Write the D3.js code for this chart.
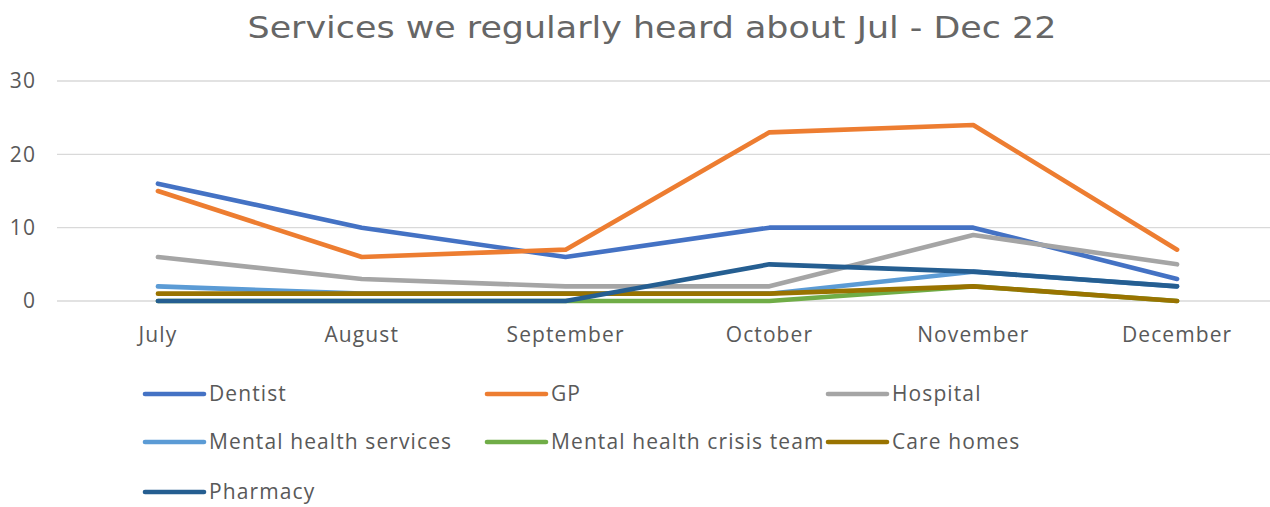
<!DOCTYPE html>
<html>
<head>
<meta charset="utf-8">
<script src="https://cdn.jsdelivr.net/npm/d3@7"></script>
<style>
  html, body { margin: 0; padding: 0; background: #fff; }
  svg { display: block; }
  text { font-family: "Open Sans", "Noto Sans", sans-serif; fill: #595959; }
</style>
</head>
<body>
<svg id="chart" width="1270" height="507"></svg>
<script>
// Monthly counts of services people told us about, Jul - Dec 2022
const months = ["July", "August", "September", "October", "November", "December"];
const seriesNames = ["Dentist", "GP", "Hospital", "Mental health services",
  "Mental health crisis team", "Care homes", "Pharmacy"];
const dentist    = [16, 10, 6, 10, 10, 3];
const gp         = [15, 6, 7, 23, 24, 7];
const hospital   = [6, 3, 2, 2, 9, 5];
const mentalHealthServices = [2, 1, 1, 1, 4, 2];
const crisisTeam = [0, 0, 0, 0, 2, 0];
const careHomes  = [1, 1, 1, 1, 2, 0];
const pharmacy   = [0, 0, 0, 5, 4, 2];
const yTicks = [0, 10, 20, 30];
const colors = ["#4472C4", "#ED7D31", "#A5A5A5", "#5B9BD5", "#70AD47", "#997300", "#255E91"];

const seriesValues = [dentist, gp, hospital, mentalHealthServices, crisisTeam, careHomes, pharmacy];
const series = seriesNames.map((name, i) => ({ name, values: seriesValues[i], color: colors[i] }));

const svg = d3.select("#chart");

svg.append("text")
  .attr("x", 652).attr("y", 38)
  .attr("text-anchor", "middle")
  .attr("textLength", 809)
  .attr("lengthAdjust", "spacingAndGlyphs")
  .style("font-family", "'DejaVu Sans', sans-serif")
  .style("font-size", "31px")
  .style("fill", "#666")
  .text("Services we regularly heard about Jul - Dec 22");

const x = d3.scaleBand().domain(months).range([56, 1279]);
const y = d3.scaleLinear().domain([0, 30]).range([301, 81]);

// horizontal gridlines
svg.append("g")
  .selectAll("line")
  .data(yTicks)
  .join("line")
  .attr("x1", 57).attr("x2", 1270)
  .attr("y1", d => y(d)).attr("y2", d => y(d))
  .attr("stroke", "#d9d9d9").attr("stroke-width", 1.3);

const labelStyle = sel => sel
  .style("font-size", "21px")
  .style("letter-spacing", "1.1px")
  .style("fill", "#595959");

// y axis labels
const yAxis = svg.append("g")
  .attr("transform", "translate(36,0)")
  .call(d3.axisLeft(y).tickValues(yTicks).tickSize(0).tickPadding(0));
yAxis.select(".domain").remove();
yAxis.selectAll("text").call(labelStyle);

// x axis labels
const xAxis = svg.append("g")
  .attr("transform", "translate(0,327)")
  .call(d3.axisBottom(x).tickSize(0).tickPadding(0));
xAxis.select(".domain").remove();
xAxis.selectAll("text").call(labelStyle);

const line = d3.line()
  .x((d, i) => x(months[i]) + x.bandwidth() / 2)
  .y(d => y(d));

svg.append("g")
  .selectAll("path")
  .data(series)
  .join("path")
  .attr("d", d => line(d.values))
  .attr("fill", "none")
  .attr("stroke", d => d.color)
  .attr("stroke-width", 4.6)
  .attr("stroke-linejoin", "round")
  .attr("stroke-linecap", "round");

// legend: three columns
const legendCols = [145, 487, 828];
const legendRows = [394, 442, 492];
const legend = svg.append("g")
  .selectAll("g")
  .data(series)
  .join("g")
  .attr("transform", (d, i) => `translate(${legendCols[i % 3]},${legendRows[Math.floor(i / 3)]})`);
legend.append("line")
  .attr("x1", 0).attr("x2", 59)
  .attr("y1", 0).attr("y2", 0)
  .attr("stroke", d => d.color)
  .attr("stroke-width", 4.6)
  .attr("stroke-linecap", "round");
legend.append("text")
  .attr("x", 64).attr("y", 0)
  .attr("dy", "0.35em")
  .call(labelStyle)
  .text(d => d.name);
</script>
</body>
</html>
